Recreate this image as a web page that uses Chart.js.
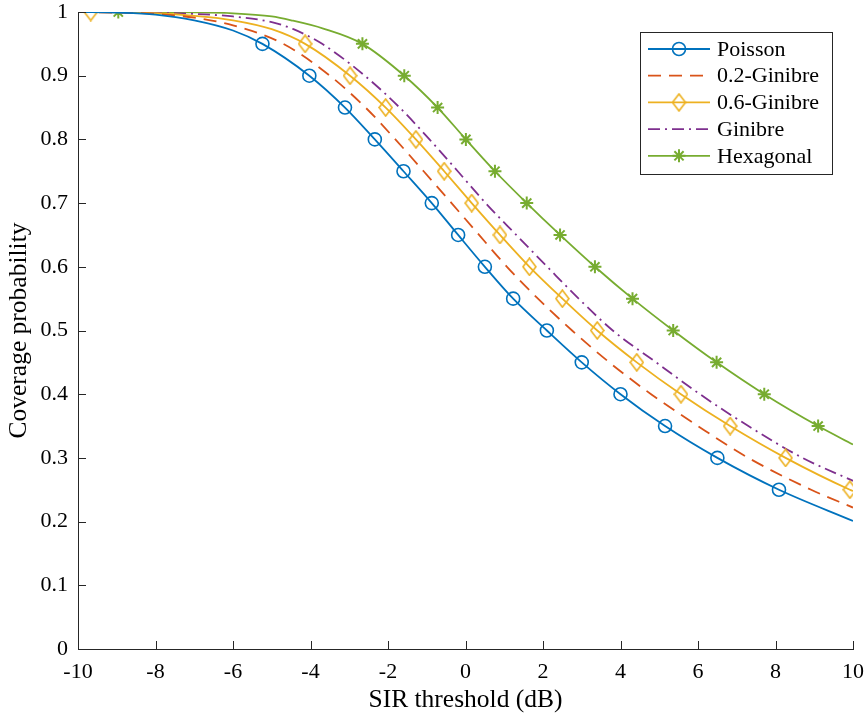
<!DOCTYPE html>
<html>
<head>
<meta charset="utf-8">
<title>Coverage probability vs SIR threshold</title>
<script src="https://cdn.jsdelivr.net/npm/chart.js@4"></script>
<style>
  html, body { margin: 0; background: #fff; }
  #wrap { width: 865px; height: 720px; position: relative; }
</style>
</head>
<body>
<div id="wrap"><canvas id="coverageChart"></canvas></div>
<script>
// axis ticks
const xTicks = [-10, -8, -6, -4, -2, 0, 2, 4, 6, 8, 10];
const yTicks = [0, 0.1, 0.2, 0.3, 0.4, 0.5, 0.6, 0.7, 0.8, 0.9, 1];
const yTickLabels = ['0', '0.1', '0.2', '0.3', '0.4', '0.5', '0.6', '0.7', '0.8', '0.9', '1'];

// coverage curves, SIR threshold in dB
const poissonX = [-10, -9, -8, -7, -6, -5.24, -4.03, -3.11, -2.34, -1.60, -0.87, -0.19, 0.50, 1.23, 2.10, 3.00, 4.00, 5.15, 6.50, 8.09, 10];
const poissonY = [1.000, 0.999, 0.996, 0.987, 0.971, 0.95, 0.90, 0.85, 0.80, 0.75, 0.70, 0.65, 0.60, 0.55, 0.50, 0.45, 0.40, 0.35, 0.30, 0.25, 0.201];
const poissonMarks = [5, 6, 7, 8, 9, 10, 11, 12, 13, 14, 15, 16, 17, 18, 19];

const gin02X = [-10, -9, -8, -7, -6, -4.70, -3.50, -2.58, -1.81, -1.08, -0.36, 0.35, 1.07, 1.87, 2.75, 3.71, 4.79, 6.00, 7.30, 8.92, 10];
const gin02Y = [1.000, 0.999, 0.997, 0.991, 0.979, 0.95, 0.90, 0.85, 0.80, 0.75, 0.70, 0.65, 0.60, 0.55, 0.50, 0.45, 0.40, 0.35, 0.30, 0.25, 0.222];

const gin06X = [-10, -9.67, -8, -7, -6, -5, -4.14, -2.98, -2.06, -1.28, -0.55, 0.16, 0.89, 1.65, 2.50, 3.40, 4.42, 5.56, 6.83, 8.26, 9.92, 10];
const gin06Y = [1.000, 1.000, 0.998, 0.994, 0.987, 0.973, 0.95, 0.90, 0.85, 0.80, 0.75, 0.70, 0.65, 0.60, 0.55, 0.50, 0.45, 0.40, 0.35, 0.30, 0.25, 0.248];
const gin06Marks = [1, 6, 7, 8, 9, 10, 11, 12, 13, 14, 15, 16, 17, 18, 19, 20];

const ginibreX = [-10, -9, -8, -7, -6, -5, -4.44, -3.70, -2.60, -1.70, -0.93, -0.20, 0.52, 1.31, 2.11, 2.92, 3.80, 4.92, 6.05, 7.30, 8.70, 10];
const ginibreY = [1.000, 1.000, 0.999, 0.997, 0.993, 0.984, 0.973, 0.95, 0.90, 0.85, 0.80, 0.75, 0.70, 0.65, 0.60, 0.55, 0.50, 0.45, 0.40, 0.35, 0.30, 0.264];

const hexX = [-10, -8.96, -7, -6, -5, -4.5, -3.67, -2.66, -1.58, -0.72, 0.01, 0.76, 1.58, 2.44, 3.34, 4.31, 5.36, 6.48, 7.71, 9.10, 10];
const hexY = [1.000, 1.000, 0.9995, 0.998, 0.993, 0.987, 0.974, 0.95, 0.90, 0.85, 0.80, 0.75, 0.70, 0.65, 0.60, 0.55, 0.50, 0.45, 0.40, 0.35, 0.321];
const hexMarks = [1, 7, 8, 9, 10, 11, 12, 13, 14, 15, 16, 17, 18, 19];

const FONT = '"Liberation Serif", "DejaVu Serif", serif';
const AXIS = '#262626';

function diamond(color) {
  const c = document.createElement('canvas');
  c.width = 15; c.height = 19;
  const g = c.getContext('2d');
  g.strokeStyle = color;
  g.lineWidth = 1.6;
  g.beginPath();
  g.moveTo(7.5, 1); g.lineTo(14, 9.5); g.lineTo(7.5, 18); g.lineTo(1, 9.5);
  g.closePath();
  g.stroke();
  return c;
}

function series(label, xs, ys, color, opts) {
  const marks = opts.marks || [];
  const r = opts.radius || 6;
  return {
    label: label,
    data: xs.map((x, i) => ({ x: x, y: ys[i] })),
    borderColor: color,
    backgroundColor: 'rgba(0,0,0,0)',
    borderWidth: 1.8,
    borderDash: opts.dash || [],
    cubicInterpolationMode: 'monotone',
    pointStyle: opts.marker || 'circle',
    pointRadius: ctx => marks.includes(ctx.dataIndex) ? r : 0,
    pointHoverRadius: ctx => marks.includes(ctx.dataIndex) ? r : 0,
    pointBorderWidth: opts.markerWidth || 1.6,
    pointBorderColor: color,
    pointBackgroundColor: 'rgba(0,0,0,0)',
    legendMarker: opts.marker ? { pointStyle: opts.marker, radius: r, borderWidth: opts.markerWidth || 1.6, rotation: 0 } : null
  };
}

const datasets = [
  series('Poisson', poissonX, poissonY, '#0072BD', { marks: poissonMarks, marker: 'circle', radius: 6.5 }),
  series('0.2-Ginibre', gin02X, gin02Y, '#D95319', { dash: [13, 8] }),
  series('0.6-Ginibre', gin06X, gin06Y, '#EDB120', { marks: gin06Marks, marker: diamond('#EDB120'), radius: 8 }),
  series('Ginibre', ginibreX, ginibreY, '#7E2F8E', { dash: [12, 5, 2, 5] }),
  series('Hexagonal', hexX, hexY, '#77AC30', { marks: hexMarks, marker: 'star', radius: 6.5, markerWidth: 2 })
];

// inward tick marks on both axes
const inwardTicks = {
  id: 'inwardTicks',
  afterDraw(chart) {
    const { ctx, chartArea, scales } = chart;
    ctx.save();
    ctx.strokeStyle = AXIS;
    ctx.lineWidth = 1;
    xTicks.forEach(v => {
      const px = Math.round(scales.x.getPixelForValue(v)) + 0.5;
      ctx.beginPath();
      ctx.moveTo(px, chartArea.bottom);
      ctx.lineTo(px, chartArea.bottom - 8);
      ctx.stroke();
    });
    yTicks.forEach(v => {
      const py = Math.round(scales.y.getPixelForValue(v)) + 0.5;
      ctx.beginPath();
      ctx.moveTo(chartArea.left, py);
      ctx.lineTo(chartArea.left + 8, py);
      ctx.stroke();
    });
    ctx.restore();
  }
};

// boxed legend with line samples and markers
const boxLegend = {
  id: 'boxLegend',
  afterDraw(chart) {
    const ctx = chart.ctx;
    const left = 640, top = 32, w = 192, h = 142;
    ctx.save();
    ctx.fillStyle = '#fff';
    ctx.fillRect(left, top, w, h);
    ctx.strokeStyle = AXIS;
    ctx.lineWidth = 1;
    ctx.strokeRect(left + 0.5, top + 0.5, w, h);
    chart.data.datasets.forEach((ds, i) => {
      const y = top + 17 + i * 26.7;
      ctx.strokeStyle = ds.borderColor;
      ctx.lineWidth = ds.borderWidth;
      ctx.setLineDash(ds.borderDash);
      ctx.beginPath();
      ctx.moveTo(648, y);
      ctx.lineTo(710, y);
      ctx.stroke();
      ctx.setLineDash([]);
      if (ds.legendMarker) {
        ctx.strokeStyle = ds.borderColor;
        ctx.fillStyle = 'rgba(0,0,0,0)';
        ctx.lineWidth = ds.legendMarker.borderWidth;
        Chart.helpers.drawPoint(ctx, ds.legendMarker, 679, y);
      }
      ctx.fillStyle = '#000';
      ctx.font = '22px ' + FONT;
      ctx.textBaseline = 'middle';
      ctx.fillText(ds.label, 717, y + 1);
    });
    ctx.restore();
  }
};

new Chart(document.getElementById('coverageChart'), {
  type: 'line',
  data: { datasets: datasets },
  options: {
    responsive: true,
    maintainAspectRatio: false,
    animation: false,
    layout: { padding: { top: 12, right: 12, left: 0, bottom: 0 } },
    plugins: { legend: { display: false }, tooltip: { enabled: false } },
    scales: {
      x: {
        type: 'linear',
        min: -10,
        max: 10,
        afterBuildTicks: s => { s.ticks = xTicks.map(v => ({ value: v })); },
        afterFit: s => { s.height = 71; s.paddingLeft = 0; s.paddingRight = 0; },
        grid: { drawOnChartArea: false, drawTicks: false },
        border: { display: true, color: AXIS, width: 1 },
        ticks: { color: '#000', padding: 10, maxRotation: 0, font: { family: FONT, size: 22 }, callback: v => String(v) },
        title: { display: true, text: 'SIR threshold (dB)', color: '#000', padding: { top: 0, bottom: 4 }, font: { family: FONT, size: 25.5 } }
      },
      y: {
        type: 'linear',
        min: 0,
        max: 1,
        afterBuildTicks: s => { s.ticks = yTicks.map(v => ({ value: v })); },
        afterFit: s => { s.width = 78; s.paddingTop = 0; s.paddingBottom = 0; },
        grid: { drawOnChartArea: false, drawTicks: false },
        border: { display: true, color: AXIS, width: 1 },
        ticks: { color: '#000', padding: 10, font: { family: FONT, size: 22 }, callback: (v, i) => yTickLabels[i] },
        title: { display: true, text: 'Coverage probability', color: '#000', padding: { top: 4, bottom: 0 }, font: { family: FONT, size: 25.5 } }
      }
    }
  },
  plugins: [inwardTicks, boxLegend]
});
</script>
</body>
</html>
